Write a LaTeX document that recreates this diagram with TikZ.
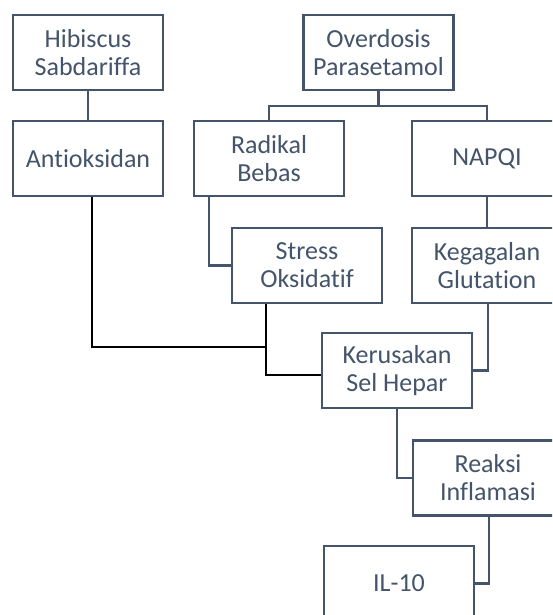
\documentclass[tikz,border=0pt]{standalone}
\usepackage{fontspec}
\setmainfont[Ligatures={NoCommon}]{Carlito}
\definecolor{slate}{HTML}{44546A}
\begin{document}
\begin{tikzpicture}[x=1pt,y=-1pt,
  box/.style={draw=slate,line width=2.5pt,fill=white,minimum width=150pt,minimum height=75pt,
    inner sep=0pt,align=center,text=slate,font=\fontsize{26}{28}\selectfont},
  conn/.style={draw=slate,line width=2.5pt},
  thin/.style={draw=black,line width=1.5pt}]
\useasboundingbox (0,0) rectangle (552,615);
\clip (0,0) rectangle (552,615);
\fill[white] (0,0) rectangle (552,615);
% connectors first
\coordinate (ovj) at (378.5,106);
\coordinate (radj) at (209,196);
\coordinate (antj) at (92,196);
\coordinate (antb) at (92,347);
\coordinate (strj) at (266,303);
\coordinate (strb) at (266,375);
\coordinate (kerl) at (322,375);
\draw[conn] (88,90) -- (88,121);
\draw[conn] (378.5,90) -- (ovj);
\draw[conn] (269,121) |- (ovj) -| (487,121);
\draw[conn] (487,196) -- (487,228);
\draw[conn] (radj) |- (232,265.5);
\draw[thin] (antj) -- (antb) -- (266,347);
\draw[thin] (strj) -- (strb) -- (kerl);
\draw[conn] (488,303) |- (472,370.5);
\draw[conn] (397,408) |- (413,478);
\draw[conn] (489,516) |- (474,583.5);
% boxes
\node[box] (hib) at (88,52.5) {Hibiscus\\Sabdariffa};
\node[box] (ant) at (88,158.5) {Antioksidan};
\node[box] (ovr) at (378.5,52.5) {Overdosis\\Parasetamol};
\node[box] (rad) at (269,158.5) {Radikal\\Bebas};
\node[box] (nap) at (487,158.5) {NAPQI};
\node[box] (str) at (307,265.5) {Stress\\Oksidatif};
\node[box] (keg) at (487,265.5) {Kegagalan\\Glutation};
\node[box] (ker) at (397,370.5) {Kerusakan\\Sel Hepar};
\node[box] (rea) at (488,478) {Reaksi\\Inflamasi};
\node[box] (il) at (399,583.5) {IL-10};
\end{tikzpicture}
\end{document}
